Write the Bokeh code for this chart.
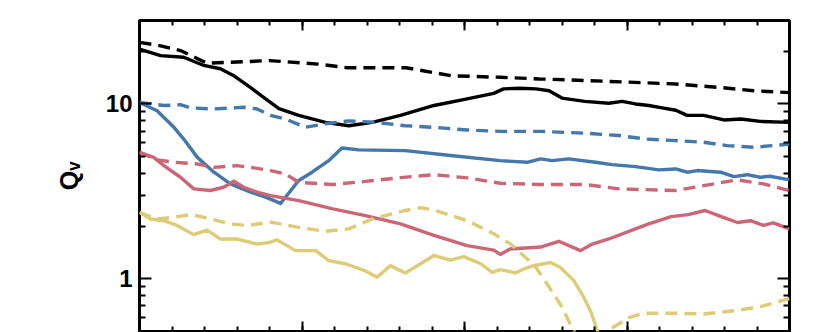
from bokeh.plotting import figure
from bokeh.models import Range1d, FixedTicker, LogAxis, LinearAxis, PrintfTickFormatter
from bokeh.embed import file_html
from bokeh.resources import INLINE

# ---- data ----
x_black_dash = [0, 0.65, 1.26, 2.08, 2.8, 4.0, 5.5, 6.4, 8.2, 9.6, 11.1, 12.3, 14.25, 16.5, 17.9, 18.9, 20]
y_black_dash = [22.5, 21.5, 20.2, 17.1, 17.3, 17.7, 16.9, 16.1, 16.1, 14.5, 14.2, 13.9, 13.5, 13.0, 12.4, 11.9, 11.6]

x_black_solid = [0, 0.65, 1.36, 1.98, 2.49, 2.9, 3.42, 3.88, 4.29, 4.9, 5.72, 6.44, 7.16, 8.03, 9.06, 10.08,
                 10.9, 11.2, 11.7, 12.2, 12.6, 13.0, 13.7, 14.44, 14.85, 15.26, 15.67, 16.08, 16.5, 16.85,
                 17.36, 17.98, 18.5, 19.1, 20]
y_black_solid = [20.6, 18.9, 18.5, 16.6, 15.9, 14.5, 12.4, 10.7, 9.4, 8.6, 7.85, 7.5, 7.85, 8.6, 9.8, 10.7,
                 11.5, 12.2, 12.3, 12.2, 11.9, 10.8, 10.35, 10.1, 10.35, 10.0, 9.8, 9.5, 9.2, 8.6,
                 8.6, 8.1, 8.2, 7.95, 7.85]

x_blue_dash = [0, 0.75, 1.26, 1.57, 2.29, 3.21, 3.62, 4.03, 4.49, 5.1, 5.72, 6.44, 7.26, 8.18, 9.06, 10.08,
               11.1, 12.34, 13.72, 14.75, 15.57, 16.5, 17.36, 18.08, 18.9, 20]
y_blue_dash = [10.2, 9.8, 9.9, 9.5, 9.36, 9.57, 9.36, 8.6, 8.2, 7.35, 7.7, 8.0, 7.85, 7.5, 7.35, 7.1,
               6.97, 6.97, 6.8, 6.6, 6.3, 6.17, 6.04, 5.78, 5.65, 5.9]

x_blue_solid = [0, 0.54, 1.06, 1.36, 1.78, 2.29, 2.8, 3.42, 3.88, 4.34, 4.9, 5.31, 5.82, 6.23, 6.75, 8.18,
                9.57, 11.1, 11.93, 12.34, 12.7, 13.2, 14.03, 14.54, 15.26, 15.98, 16.5, 16.85, 17.16,
                17.88, 18.29, 18.7, 19.1, 19.4, 20]
y_blue_solid = [10.2, 9.15, 7.35, 6.3, 4.95, 4.07, 3.49, 3.13, 2.93, 2.70, 3.65, 4.07, 4.74, 5.6, 5.46, 5.41,
                5.07, 4.74, 4.64, 4.85, 4.74, 4.85, 4.64, 4.5, 4.38, 4.2, 4.25, 4.07, 4.16,
                4.07, 3.84, 3.94, 3.81, 3.86, 3.68]

x_red_dash = [0, 0.54, 1.06, 1.78, 2.29, 3.0, 3.52, 4.03, 4.49, 4.9, 5.95, 6.95, 8.03, 9.06, 10.08, 11.1,
              12.34, 13.72, 14.75, 16.5, 17.36, 18.39, 19.2, 20]
y_red_dash = [5.29, 4.79, 4.64, 4.54, 4.34, 4.44, 4.31, 4.16, 3.98, 3.56, 3.46, 3.61, 3.79, 3.94, 3.78, 3.52,
              3.46, 3.46, 3.27, 3.2, 3.41, 3.68, 3.49, 3.2]

x_red_solid = [0, 0.44, 0.75, 1.26, 1.67, 2.18, 2.59, 2.9, 3.21, 3.62, 4.03, 4.9, 5.95, 6.95, 8.03, 9.06,
               10.08, 10.9, 11.1, 11.4, 12.34, 12.9, 13.57, 13.93, 14.44, 15.26, 15.67, 16.36, 16.88,
               17.4, 17.9, 18.4, 18.8, 19.2, 19.5, 20]
y_red_solid = [5.29, 4.95, 4.44, 3.81, 3.27, 3.2, 3.34, 3.61, 3.34, 3.13, 2.99, 2.8, 2.51, 2.30, 2.06, 1.77,
               1.55, 1.46, 1.38, 1.48, 1.52, 1.64, 1.45, 1.58, 1.69, 1.93, 2.06, 2.27, 2.33,
               2.46, 2.27, 2.1, 2.15, 2.02, 2.09, 1.93]

x_yellow_dash = [0, 0.54, 1.06, 1.57, 2.08, 2.8, 3.32, 4.03, 4.9, 5.72, 6.44, 7.16, 8.18, 8.65, 9.06, 10.08,
                 10.9, 11.42, 11.93, 12.2, 12.6, 13.0, 13.3, 13.6, 14.0, 14.44, 15.06, 15.5, 16.5, 17.36,
                 18.39, 19.2, 19.6, 20]
y_yellow_dash = [2.40, 2.20, 2.25, 2.33, 2.23, 2.06, 2.02, 2.11, 1.97, 1.87, 1.93, 2.2, 2.46, 2.55, 2.48, 2.15,
                 1.81, 1.58, 1.3, 1.16, 0.9, 0.69, 0.53, 0.42, 0.40, 0.51, 0.60, 0.636, 0.636, 0.63,
                 0.66, 0.70, 0.735, 0.77]

x_yellow_solid = [0, 0.34, 0.75, 1.16, 1.67, 2.08, 2.49, 3.0, 3.62, 4.03, 4.23, 4.8, 5.42, 5.82, 6.34, 6.95,
                  7.31, 7.72, 8.18, 8.65, 9.06, 9.57, 9.98, 10.5, 10.85, 11.1, 11.57, 11.82, 12.13, 12.65,
                  12.95, 13.36, 13.67, 13.9, 14.08, 14.3]
y_yellow_solid = [2.40, 2.2, 2.15, 2.02, 1.79, 1.9, 1.69, 1.69, 1.58, 1.62, 1.67, 1.45, 1.45, 1.27, 1.22, 1.11,
                  1.02, 1.19, 1.08, 1.22, 1.36, 1.28, 1.34, 1.22, 1.09, 1.13, 1.08, 1.14, 1.19, 1.24,
                  1.16, 0.98, 0.785, 0.64, 0.51, 0.40]

x_major_ticks = [0, 5, 10, 15, 20]
x_minor_ticks = list(range(0, 21))
y_major_ticks = [1, 10]
y_minor_ticks = [0.5, 0.6, 0.7, 0.8, 0.9, 2, 3, 4, 5, 6, 7, 8, 9, 20, 30]

BLACK = "#000000"
BLUE = "#4477AA"
RED = "#CC6677"
YELLOW = "#DDCC77"

p = figure(width=830, height=332,
           x_range=Range1d(0, 20), y_range=Range1d(0.5, 30),
           y_axis_type="log", x_axis_location=None, y_axis_location=None,
           output_backend="svg", toolbar_location=None,
           min_border_left=139, min_border_right=41, min_border_top=20, min_border_bottom=1)
p.background_fill_color = "white"
p.border_fill_color = "white"
p.outline_line_color = "black"
p.outline_line_width = 3
p.outline_line_alpha = 1.0
for g in p.grid:
    g.visible = False

xt = FixedTicker(ticks=x_major_ticks, minor_ticks=x_minor_ticks)
yt = FixedTicker(ticks=y_major_ticks, minor_ticks=y_minor_ticks)


def style(ax, major, minor):
    ax.axis_line_color = None
    ax.major_tick_in = major
    ax.major_tick_out = 0
    ax.minor_tick_in = minor
    ax.minor_tick_out = 0
    ax.major_tick_line_width = 2
    ax.minor_tick_line_width = 2
    ax.major_tick_line_color = "black"
    ax.minor_tick_line_color = "black"


def hide_labels(ax):
    ax.major_label_text_font_size = "1px"
    ax.major_label_text_color = None
    ax.major_label_standoff = 0


left = LogAxis(ticker=yt, formatter=PrintfTickFormatter(format="%d"), axis_label="Qᵥ")
style(left, 12, 6)
left.major_label_text_font = "Liberation Sans"
left.major_label_text_font_style = "bold"
left.major_label_text_font_size = "24px"
left.major_label_text_color = "black"
left.major_label_standoff = 7
left.axis_label_text_font = "Liberation Sans"
left.axis_label_text_font_style = "bold"
left.axis_label_text_font_size = "25px"
left.axis_label_text_color = "black"
left.axis_label_standoff = 20
p.add_layout(left, "left")

right = LogAxis(ticker=yt)
style(right, 12, 6)
hide_labels(right)
p.add_layout(right, "right")

top = LinearAxis(ticker=xt)
style(top, 10, 5)
hide_labels(top)
p.add_layout(top, "above")

bottom = LinearAxis(ticker=xt)
style(bottom, 10, 5)
hide_labels(bottom)
p.add_layout(bottom, "below")

W = 3.4
DASH = "12 7"
p.line(x_black_dash, y_black_dash, line_color=BLACK, line_width=W, line_dash=DASH)
p.line(x_black_solid, y_black_solid, line_color=BLACK, line_width=W, line_join="round")
p.line(x_blue_dash, y_blue_dash, line_color=BLUE, line_width=W, line_dash=DASH)
p.line(x_blue_solid, y_blue_solid, line_color=BLUE, line_width=W, line_join="round")
p.line(x_red_dash, y_red_dash, line_color=RED, line_width=W, line_dash=DASH)
p.line(x_red_solid, y_red_solid, line_color=RED, line_width=W, line_join="round")
p.line(x_yellow_dash, y_yellow_dash, line_color=YELLOW, line_width=W, line_dash=DASH)
p.line(x_yellow_solid, y_yellow_solid, line_color=YELLOW, line_width=W, line_join="round")

open("out.html", "w").write(file_html(p, INLINE))
